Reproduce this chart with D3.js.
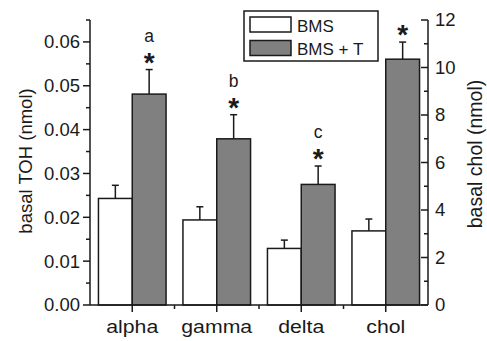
<!DOCTYPE html>
<html>
<head>
<meta charset="utf-8">
<script src="https://cdn.jsdelivr.net/npm/d3@7"></script>
<style>
  body { margin: 0; background: #fff; }
  svg text { font-family: Arial, "Liberation Sans", sans-serif; fill: #1a1a1a; }
</style>
</head>
<body>
<div id="chart"></div>
<script>
// values (chol is on the right axis)
const categories = ["alpha", "gamma", "delta", "chol"];
const bms = [0.0243, 0.0194, 0.0129, 3.12];
const bmsErr = [0.0030, 0.0030, 0.0019, 0.50];
const bmsT = [0.0481, 0.0379, 0.0275, 10.35];
const bmsTErr = [0.0056, 0.0055, 0.0042, 0.72];
const sigLetters = ["a", "b", "c", ""];
const leftTicks = [0, 0.01, 0.02, 0.03, 0.04, 0.05, 0.06];
const rightTicks = [0, 2, 4, 6, 8, 10, 12];
const seriesNames = ["BMS", "BMS + T"];

const W = 487, H = 341;
const margin = {top: 20, right: 60, bottom: 36, left: 90};
const ink = "#1a1a1a";
const grey = "#808080";

const svg = d3.select("#chart").append("svg")
    .attr("width", W)
    .attr("height", H);

const x = d3.scaleBand()
    .domain(categories)
    .range([margin.left, 428])
    .padding(0);

const yL = d3.scaleLinear().domain([0, 0.065]).range([H - margin.bottom, margin.top]);
const yR = d3.scaleLinear().domain([0, 12]).range([H - margin.bottom, margin.top]);

// which scale each category uses
const yFor = i => categories[i] === "chol" ? yR : yL;

const barW = x.bandwidth() * 0.4;

const groups = svg.selectAll("g.grp")
    .data(categories)
    .join("g")
    .attr("class", "grp");

// bars
groups.each(function(c, i) {
    const g = d3.select(this);
    const y = yFor(i);
    const cx = x(c) + x.bandwidth() / 2;
    const vals = [[bms[i], bmsErr[i], "#fff", cx - barW], [bmsT[i], bmsTErr[i], grey, cx]];
    vals.forEach(([v, e, fill, x0]) => {
        g.append("rect")
            .attr("x", x0)
            .attr("y", y(v))
            .attr("width", barW)
            .attr("height", y(0) - y(v))
            .attr("fill", fill)
            .attr("stroke", ink)
            .attr("stroke-width", 1.5);
        const mx = x0 + barW / 2;
        g.append("line")
            .attr("x1", mx).attr("x2", mx)
            .attr("y1", y(v)).attr("y2", y(v + e))
            .attr("stroke", ink).attr("stroke-width", 1.5);
        g.append("line")
            .attr("x1", mx - 3.5).attr("x2", mx + 3.5)
            .attr("y1", y(v + e)).attr("y2", y(v + e))
            .attr("stroke", ink).attr("stroke-width", 1.5);
    });

    // significance marks above BMS + T
    const top = y(bmsT[i] + bmsTErr[i]);
    const mx = cx + barW / 2;
    g.append("text")
        .attr("x", mx)
        .attr("y", top + 2)
        .attr("text-anchor", "middle")
        .attr("font-size", 28)
        .attr("font-weight", "bold")
        .text("*");
    if (sigLetters[i]) {
        g.append("text")
            .attr("x", mx)
            .attr("y", top - 28)
            .attr("text-anchor", "middle")
            .attr("font-size", 17.5)
            .text(sigLetters[i]);
    }
});

// axes
const y0 = yL(0);
const axisG = svg.append("g").attr("stroke", ink).attr("stroke-width", 1.5);

axisG.append("line").attr("x1", margin.left).attr("x2", margin.left).attr("y1", y0).attr("y2", yL(0.065));
axisG.append("line").attr("x1", 428).attr("x2", 428).attr("y1", y0).attr("y2", yR(12));
axisG.append("line").attr("x1", margin.left).attr("x2", 428).attr("y1", y0).attr("y2", y0);

// left ticks: outward, minor every 0.005
d3.range(0, 0.0651, 0.005).forEach((v, k) => {
    const major = k % 2 === 0;
    axisG.append("line")
        .attr("x1", margin.left).attr("x2", margin.left - (major ? 7 : 4))
        .attr("y1", yL(v)).attr("y2", yL(v));
});
svg.append("g").selectAll("text")
    .data(leftTicks)
    .join("text")
    .attr("x", margin.left - 10)
    .attr("y", d => yL(d))
    .attr("dy", "0.35em")
    .attr("text-anchor", "end")
    .attr("font-size", 18.5)
    .text(d => d.toFixed(2));

// right ticks: inward, minor every 1
d3.range(0, 13, 1).forEach(v => {
    const major = v % 2 === 0;
    axisG.append("line")
        .attr("x1", 428).attr("x2", 428 - (major ? 7 : 4))
        .attr("y1", yR(v)).attr("y2", yR(v));
});
svg.append("g").selectAll("text")
    .data(rightTicks)
    .join("text")
    .attr("x", 435)
    .attr("y", d => yR(d))
    .attr("dy", "0.35em")
    .attr("font-size", 18.5)
    .text(d => d);

// bottom ticks: major at centres, minor at group boundaries
categories.forEach((c, i) => {
    const cx = x(c) + x.bandwidth() / 2;
    axisG.append("line").attr("x1", cx).attr("x2", cx).attr("y1", y0).attr("y2", y0 + 7);
    if (i > 0) axisG.append("line").attr("x1", x(c)).attr("x2", x(c)).attr("y1", y0).attr("y2", y0 + 4);
});
svg.append("g").selectAll("text")
    .data(categories)
    .join("text")
    .attr("transform", d => `translate(${x(d) + x.bandwidth() / 2},${y0 + 28}) scale(1.15,1)`)
    .attr("text-anchor", "middle")
    .attr("font-size", 18.5)
    .text(d => d);

// axis titles
svg.append("text")
    .attr("transform", `translate(25,161) rotate(-90)`)
    .attr("text-anchor", "middle")
    .attr("dominant-baseline", "central")
    .attr("font-size", 18.5)
    .text("basal TOH (nmol)");
svg.append("text")
    .attr("transform", `translate(475,154) rotate(-90)`)
    .attr("text-anchor", "middle")
    .attr("dominant-baseline", "central")
    .attr("font-size", 19.5)
    .text("basal chol (nmol)");

// legend
const lg = svg.append("g").attr("transform", "translate(244,11)");
lg.append("rect")
    .attr("width", 134).attr("height", 50)
    .attr("fill", "#fff").attr("stroke", ink).attr("stroke-width", 1.5);
seriesNames.forEach((name, i) => {
    lg.append("rect")
        .attr("x", 6).attr("y", 6 + i * 23.5)
        .attr("width", 41).attr("height", 15)
        .attr("fill", i === 0 ? "#fff" : grey)
        .attr("stroke", ink).attr("stroke-width", 1.5);
    lg.append("text")
        .attr("x", 53).attr("y", 21 + i * 23)
        .attr("font-size", 17)
        .text(name);
});
</script>
</body>
</html>
